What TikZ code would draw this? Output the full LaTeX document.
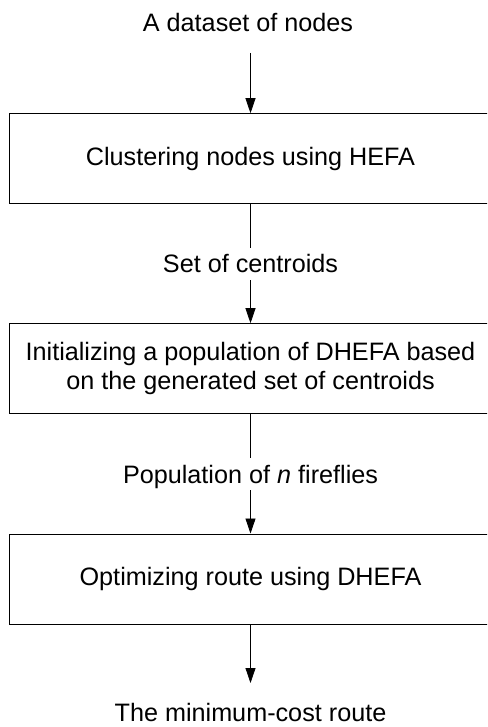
\documentclass[tikz,border=0pt]{standalone}
\usepackage{fontspec}
\setmainfont{Liberation Sans}
\usetikzlibrary{arrows.meta}
\begin{document}
\begin{tikzpicture}[x=1pt,y=-1pt,
 every node/.style={font=\fontsize{25.2}{29}\selectfont},
 box/.style={draw=black,line width=1pt,minimum width=483pt,minimum height=90pt,inner sep=0pt,align=center},
 lbl/.style={inner sep=0pt,text height=18pt,text depth=0pt},
 conn/.style={line width=0.8pt},
 arr/.style={conn,-{Triangle[width=10pt,length=15pt]}}]
\clip (0,0) rectangle (487,727);
\node[lbl] (in) at (248,23) {A dataset of nodes};
\coordinate (a1) at (250.5,53);
\node[box] (b1) at (250.5,158.7) {Clustering nodes using HEFA};
\coordinate (l1) at (250.5,248);
\node[lbl] (c) at (250.5,263) {Set of centroids};
\coordinate (a2) at (250.5,280);
\node[box] (b2) at (250.5,368.7) {Initializing a population of DHEFA based\\on the generated set of centroids};
\coordinate (l2) at (250.5,458);
\node[lbl] (p) at (250.5,474) {Population of \textit{n} fireflies};
\coordinate (a3) at (250.5,490);
\node[box] (b3) at (250.5,579) {Optimizing route using DHEFA};
\coordinate (a4) at (250.5,683);
\node[lbl] (out) at (250.5,712.5) {The minimum-cost route};
\draw[arr] (a1) -- (b1.north);
\draw[conn] (b1.south) -- (l1);
\draw[arr] (a2) -- (b2.north);
\draw[conn] (b2.south) -- (l2);
\draw[arr] (a3) -- (b3.north);
\draw[arr] (b3.south) -- (a4);
\end{tikzpicture}
\end{document}
